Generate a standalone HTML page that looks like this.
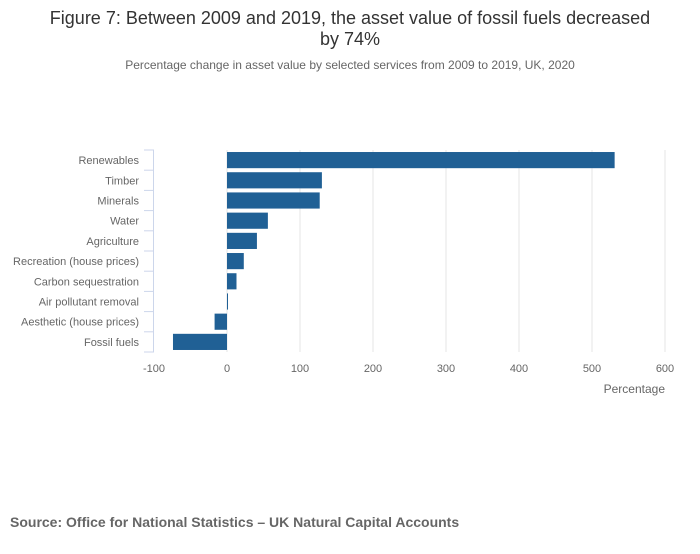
<!DOCTYPE html>
<html><head><meta charset="utf-8"><style>
body{margin:0;background:#fff;font-family:"Liberation Sans",sans-serif;}
svg text{font-family:"Liberation Sans",sans-serif;}
</style></head><body>
<svg width="700" height="549" viewBox="0 0 700 549">
<text x="350" y="24" text-anchor="middle" font-size="18" fill="#333">Figure 7: Between 2009 and 2019, the asset value of fossil fuels decreased</text>
<text x="350" y="45" text-anchor="middle" font-size="18" fill="#333">by 74%</text>
<text x="350" y="69" text-anchor="middle" font-size="12" fill="#666">Percentage change in asset value by selected services from 2009 to 2019, UK, 2020</text>
<g id="grid"></g><g id="bars"></g><g id="yaxis"></g><g id="xaxis"></g>
<text x="665" y="393" text-anchor="end" font-size="12" fill="#666">Percentage</text>
<text x="10" y="527" font-size="14" font-weight="bold" fill="#666">Source: Office for National Statistics – UK Natural Capital Accounts</text>
</svg>
<script>
const categories=["Renewables","Timber","Minerals","Water","Agriculture","Recreation (house prices)","Carbon sequestration","Air pollutant removal","Aesthetic (house prices)","Fossil fuels"];
const values=[531,130,127,56,41,23,13,1,-17,-74];
const xTicks=[-100,0,100,200,300,400,500,600];
const ns="http://www.w3.org/2000/svg";
const X0=154,X1=665,VMIN=-100,VMAX=600,Y0=150,Y1=352;
const x=v=>X0+(v-VMIN)/(VMAX-VMIN)*(X1-X0);
const band=(Y1-Y0)/categories.length;
const y=i=>Y0+i*band;
function mk(t,a,p){const e=document.createElementNS(ns,t);for(const k in a)e.setAttribute(k,a[k]);p.appendChild(e);return e;}
const G=document.getElementById('grid'),B=document.getElementById('bars'),YA=document.getElementById('yaxis'),XA=document.getElementById('xaxis');
xTicks.forEach(t=>{
 if(t>VMIN){const l=mk('line',{x1:x(t),x2:x(t),y1:Y0,y2:Y1,stroke:'#e6e6e6'},G);
 
 }
 const tx=mk('text',{x:x(t),y:Y1+20,'text-anchor':'middle','font-size':11,fill:'#666'},XA);tx.textContent=t;
 
 
});
const ax=mk('line',{x1:X0-0.5,x2:X0-0.5,y1:Y0,y2:Y1,stroke:'#ccd6eb'},YA);


for(let i=0;i<=categories.length;i++){const tk=mk('line',{x1:X0-10,x2:X0,y1:y(i),y2:y(i),stroke:'#ccd6eb'},YA);
 
 }
categories.forEach((c,i)=>{
 const v=values[i],pad=band*0.1;
 const r=mk('rect',{x:Math.min(x(0),x(v)),y:y(i)+pad,width:Math.max(1,Math.abs(x(v)-x(0))),height:band-2*pad,fill:'#206095'},B);
 
 
 const t=mk('text',{x:139,y:y(i)+band/2+4,'text-anchor':'end','font-size':11,fill:'#666'},YA);t.textContent=c;
 
 
});
</script>
</body></html>
